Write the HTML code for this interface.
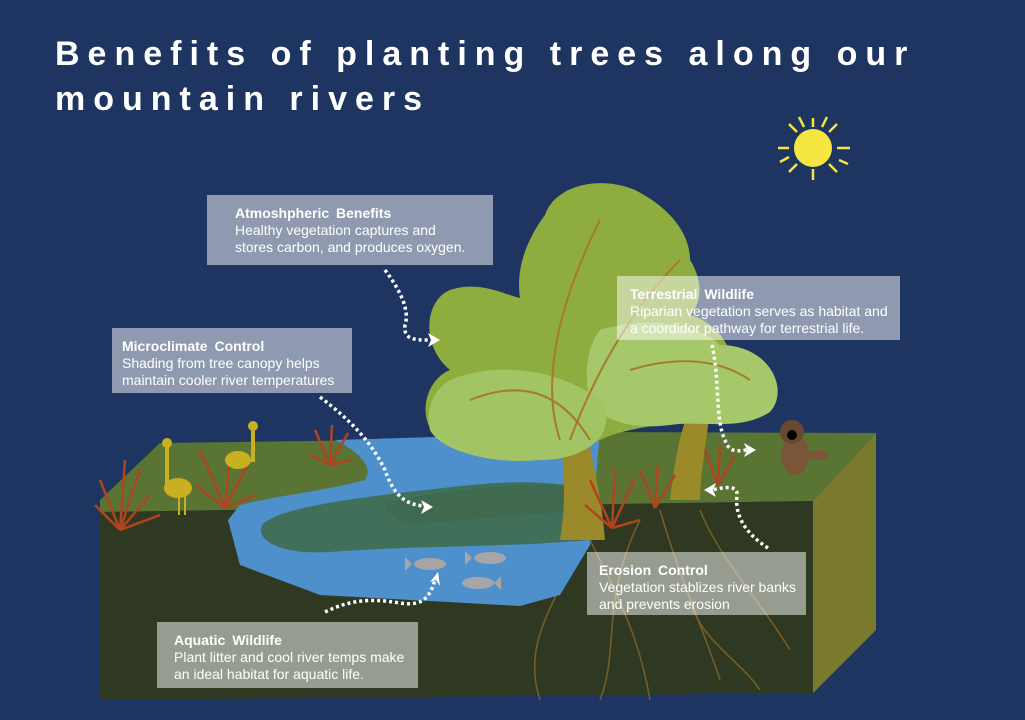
<!DOCTYPE html>
<html><head><meta charset="utf-8"><style>
body{margin:0;background:#1f3561;width:1025px;height:720px;overflow:hidden;font-family:"Liberation Sans",sans-serif}
.t{position:absolute;left:55px;color:#fff;font-weight:bold;font-size:34px;letter-spacing:8px}
.box{position:absolute;background:rgba(255,255,255,0.5);color:#fff;font-size:14px;line-height:17px;padding:10px 0 0 18px;box-sizing:border-box}
.box b{display:block;font-size:14px;word-spacing:3px}
</style></head><body>
<svg width="1025" height="720" style="position:absolute;left:0;top:0">
<g stroke="#f5e642" stroke-width="2.5">
<line x1="813" y1="118" x2="813" y2="127"/><line x1="813" y1="169" x2="813" y2="180"/>
<line x1="778" y1="148" x2="789" y2="148"/><line x1="837" y1="148" x2="850" y2="148"/>
<line x1="789" y1="124" x2="797" y2="132"/><line x1="829" y1="164" x2="837" y2="172"/>
<line x1="837" y1="124" x2="829" y2="132"/><line x1="789" y1="172" x2="797" y2="164"/>
<line x1="799" y1="117" x2="804" y2="127"/><line x1="827" y1="117" x2="822" y2="127"/>
<line x1="839" y1="160" x2="848" y2="164"/><line x1="780" y1="162" x2="789" y2="157"/>
</g>
<circle cx="813" cy="148" r="19" fill="#f5e642"/>
<polygon points="813,501 876,433 876,630 813,693" fill="#7a7a2e"/>
<polygon points="100,500 160,443 380,440 600,432 876,433 813,501 100,512" fill="#5a7434"/>
<polygon points="100,512 813,501 813,693 100,700" fill="#2f3921"/>
<g stroke="#8a6a2a" stroke-width="1.5" fill="none" opacity="0.8">
<path d="M580,540 C560,600 520,640 540,700"/><path d="M590,540 C620,600 640,640 650,700"/>
<path d="M660,510 C680,580 700,620 720,680"/><path d="M700,510 C720,560 760,600 790,650"/>
<path d="M640,520 C600,600 620,650 600,700"/><path d="M690,600 C700,640 740,660 760,690"/>
</g>
<path d="M335,440 L600,432 L590,545 L560,595 L520,606 L320,595 L240,565 L228,520 L240,505 C280,495 330,490 365,480 C375,465 355,450 335,440 Z" fill="#4d90cc"/>
<path d="M262,525 C280,505 380,495 470,485 C520,480 560,482 590,490 L590,540 C500,548 420,545 330,552 C280,555 255,540 262,525 Z" fill="#40705a"/>
<path d="M385,503 C440,490 520,482 590,485 L590,510 C520,515 460,520 410,525 C395,520 385,512 385,503Z" fill="#3f6a50"/>
<g fill="#a6a6a6">
<ellipse cx="430" cy="564" rx="16" ry="6"/><polygon points="412,564 405,557 405,571"/>
<ellipse cx="490" cy="558" rx="16" ry="6"/><polygon points="472,558 465,551 465,565"/>
<ellipse cx="478" cy="583" rx="16" ry="6"/><polygon points="494,583 501,576 501,590"/>
</g>
<g>
<path d="M560,540 C570,480 560,420 545,380 L575,380 C585,430 600,480 605,540 Z" fill="#9a8a2a"/>
<path d="M670,500 C675,460 680,430 690,410 L710,410 C705,450 700,480 700,500 Z" fill="#9a8a2a"/>
<path d="M545,215 C555,185 600,175 635,190 C665,205 690,230 690,260 C700,275 705,300 690,315 C725,325 745,365 725,395 C700,430 640,420 600,440 C560,460 480,460 440,440 C415,420 425,380 450,370 C420,345 425,300 450,290 C480,280 505,295 520,298 C515,265 530,235 545,215 Z" fill="#8fad3e"/>
<path d="M600,330 C650,315 700,325 720,345 C770,345 790,390 770,412 C740,432 700,420 670,425 C630,430 600,420 590,400 C582,370 590,342 600,330Z" fill="#a6c86a"/>
<path d="M450,380 C500,360 560,370 600,400 C620,430 590,460 540,460 C490,465 440,450 430,430 C425,405 435,390 450,380Z" fill="#a3c464"/>
<g stroke="#a57a2a" stroke-width="2" fill="none">
<path d="M560,440 C540,380 560,300 600,220"/><path d="M570,440 C600,360 640,300 680,260"/>
<path d="M470,400 C520,380 560,390 590,440"/><path d="M630,370 C680,355 720,360 750,380"/>
</g>
</g>
<g stroke="#b0441e" stroke-width="2.5" fill="none">
<path d="M120,530 L100,480 M120,530 L125,460 M120,530 L140,470 M120,530 L150,495 M120,530 L95,505 M120,530 L160,515"/>
<path d="M225,508 L200,450 M225,508 L230,455 M225,508 L250,460 M225,508 L255,495 M225,508 L195,485"/>
<path d="M330,465 L315,430 M330,465 L332,425 M330,465 L348,433 M330,465 L352,460 M330,465 L310,455"/>
<path d="M612,528 L590,480 M612,528 L615,470 M612,528 L635,478 M612,528 L640,520 M612,528 L585,505"/>
<path d="M655,508 L640,470 M655,508 L658,465 M655,508 L675,475"/>
<path d="M718,485 L705,450 M718,485 L720,445 M718,485 L735,455"/>
</g>
<g fill="#c9b020">
<ellipse cx="178" cy="488" rx="14" ry="10"/><rect x="165" y="445" width="4" height="40"/><circle cx="167" cy="443" r="5"/>
<rect x="178" y="495" width="2" height="20"/><rect x="184" y="495" width="2" height="20"/>
<ellipse cx="238" cy="460" rx="13" ry="9"/><rect x="251" y="430" width="4" height="32"/><circle cx="253" cy="426" r="5"/>
</g>
<ellipse cx="795" cy="455" rx="14" ry="20" fill="#7a5538"/><circle cx="792" cy="432" r="12" fill="#6a4830"/>
<circle cx="792" cy="435" r="5" fill="#000"/><ellipse cx="818" cy="455" rx="10" ry="5" fill="#7a5538"/>
<g fill="none" stroke="#fff" stroke-width="3.5" stroke-dasharray="3,3">
<path d="M385,270 C400,290 410,310 405,325 C403,340 415,340 430,340"/>
<path d="M320,397 C350,420 370,440 385,470 C395,500 410,505 425,506"/>
<path d="M712,345 C720,380 715,420 725,440 C730,455 740,450 748,450"/>
<path d="M768,548 C740,530 735,510 737,495 C738,485 725,487 712,490"/>
<path d="M325,612 C350,600 370,598 400,603 C425,607 430,595 435,580"/>
</g>
<g fill="#fff">
<polygon points="440,340 428,333 431,340 428,347"/>
<polygon points="433,507 421,500 424,507 421,514"/>
<polygon points="756,450 744,443 747,450 744,457"/>
<polygon points="704,490 716,483 713,490 716,497"/>
<polygon points="438,572 430,582 436,580 440,586"/>
</g>
</svg>
<div class="t" style="top:35px">Benefits of planting trees along our</div>
<div class="t" style="top:80px">mountain rivers</div>
<div class="box" style="left:207px;top:195px;width:286px;height:70px;padding-left:28px"><b>Atmoshpheric Benefits</b>Healthy vegetation captures and<br>stores carbon, and produces oxygen.</div>
<div class="box" style="left:112px;top:328px;width:240px;height:65px;padding-left:10px"><b>Microclimate Control</b>Shading from tree canopy helps<br>maintain cooler river temperatures</div>
<div class="box" style="left:617px;top:276px;width:283px;height:64px;padding-left:13px"><b>Terrestrial Wildlife</b>Riparian vegetation serves as habitat and<br>a coordidor pathway for terrestrial life.</div>
<div class="box" style="left:587px;top:552px;width:219px;height:63px;padding-left:12px"><b>Erosion Control</b>Vegetation stablizes river banks<br>and prevents erosion</div>
<div class="box" style="left:157px;top:622px;width:261px;height:66px;padding-left:17px"><b>Aquatic Wildlife</b>Plant litter and cool river temps make<br>an ideal habitat for aquatic life.</div>
</body></html>
